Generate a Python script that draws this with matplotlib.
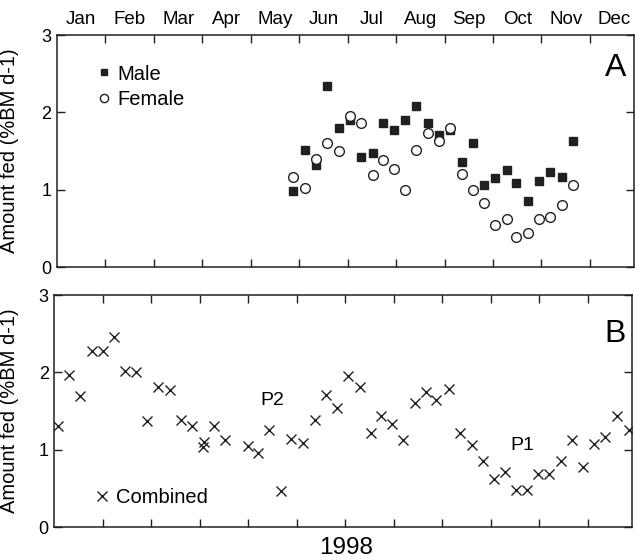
import numpy as np
import matplotlib
matplotlib.use("Agg")
from matplotlib import pyplot as plt

plt.rcParams['font.family'] = ['Liberation Sans', 'DejaVu Sans']

# month labels along the top axis
months = ["Jan", "Feb", "Mar", "Apr", "May", "Jun",
          "Jul", "Aug", "Sep", "Oct", "Nov", "Dec"]

# panel A: weekly samples, time in months since 1 Jan
sex_time = [4.88, 5.12, 5.35, 5.58, 5.82, 6.05, 6.28, 6.52, 6.72, 6.95,
            7.18, 7.42, 7.65, 7.88, 8.12, 8.35, 8.59, 8.82, 9.05, 9.29,
            9.48, 9.72, 9.95, 10.18, 10.43, 10.66]
male_fed = [0.99, 1.52, 1.32, 2.34, 1.80, 1.90, 1.43, 1.47, 1.86, 1.77,
            1.90, 2.08, 1.86, 1.71, 1.77, 1.36, 1.60, 1.06, 1.15, 1.26,
            1.09, 0.85, 1.12, 1.23, 1.16, 1.63]
female_fed = [1.17, 1.02, 1.40, 1.60, 1.50, 1.96, 1.86, 1.19, 1.38, 1.27,
              1.00, 1.52, 1.73, 1.63, 1.80, 1.21, 1.00, 0.83, 0.54, 0.62,
              0.39, 0.44, 0.62, 0.65, 0.81, 1.06]

# panel B: combined sexes
comb_time = [0.08, 0.31, 0.54, 0.77, 1.00, 1.23, 1.46, 1.68, 1.92, 2.14,
             2.39, 2.61, 2.83, 3.06, 3.09, 3.29, 3.53, 4.00, 4.21, 4.43,
             4.67, 4.89, 5.13, 5.37, 5.60, 5.83, 6.06, 6.30, 6.54, 6.73,
             6.96, 7.20, 7.43, 7.66, 7.88, 8.14, 8.37, 8.61, 8.83, 9.07,
             9.29, 9.52, 9.75, 9.98, 10.21, 10.44, 10.67, 10.91, 11.13, 11.35,
             11.61, 11.84]
comb_fed = [1.31, 1.97, 1.69, 2.28, 2.27, 2.46, 2.02, 2.00, 1.37, 1.81,
            1.77, 1.39, 1.31, 1.04, 1.10, 1.31, 1.12, 1.05, 0.96, 1.25,
            0.47, 1.14, 1.08, 1.39, 1.71, 1.54, 1.95, 1.81, 1.22, 1.44,
            1.33, 1.12, 1.60, 1.75, 1.64, 1.79, 1.22, 1.06, 0.85, 0.62,
            0.71, 0.48, 0.48, 0.69, 0.69, 0.85, 1.12, 0.78, 1.07, 1.17,
            1.43, 1.25]

ink = '#231f20'


def style_axes(ax, ylabel_x):
    ax.set_xlim(0, 11.92)
    ax.set_ylim(0, 3)
    ax.set_xticks(np.arange(1, 12))
    ax.set_yticks([0, 1, 2, 3])
    ax.tick_params(
        which='major',
        direction='in',
        length=6,
        width=1.0,
        color=ink,
        top=True,
        right=True,
        labelbottom=False,
        labelsize=13,
        pad=4,
        )
    for spine in ax.spines.values():
        spine.set_linewidth(1.1)
        spine.set_color(ink)
    ax.set_ylabel("Amount fed (%BM d-1)", fontsize=14.5)
    ax.yaxis.set_label_coords(ylabel_x, 0.5)


fig = plt.figure(figsize=(6.35, 5.6), dpi=100)
ax_a = fig.add_axes([0.0898, 0.5227, 0.9094, 0.4148])
ax_b = fig.add_axes([0.0855, 0.0589, 0.9104, 0.4143])

# --- panel A
ax_a.plot(sex_time, male_fed, ls='none', marker='s', ms=5.2,
          color=ink, label="Male")
ax_a.plot(sex_time, female_fed, ls='none', marker='o', ms=7,
          mfc='white', mec=ink, mew=1.0, label="Female")
style_axes(ax_a, -0.066)
ax_a.set_xticks(np.arange(0.5, 12), minor=True)
ax_a.set_xticklabels(months, minor=True)
ax_a.tick_params(which='minor', length=0, labeltop=True,
                 labelbottom=False, labelsize=13.5, pad=5)
ax_a.text(0.968, 0.858, "A", transform=ax_a.transAxes,
          fontsize=23, ha='center', va='center')
ax_a.legend(
    loc='center left',
    bbox_to_anchor=(0.0495, 0.778),
    frameon=False,
    fontsize=14.5,
    borderpad=0,
    handlelength=0.8,
    handletextpad=0.3,
    labelspacing=0.3,
    markerscale=0.85,
    )

# --- panel B
ax_b.plot(comb_time, comb_fed, ls='none', marker='x', ms=7.5, mew=1.0,
          color=ink, label="Combined")
style_axes(ax_b, -0.061)
ax_b.text(0.970, 0.832, "B", transform=ax_b.transAxes,
          fontsize=23, ha='center', va='center')
ax_b.text(4.49, 1.64, "P2", fontsize=14, ha='center', va='center')
ax_b.text(9.66, 1.05, "P1", fontsize=14, ha='center', va='center')
ax_b.legend(
    loc='center left',
    bbox_to_anchor=(0.051, 0.126),
    frameon=False,
    fontsize=14.5,
    borderpad=0,
    handlelength=0.8,
    handletextpad=0.3,
    )
ax_b.set_xlabel("1998", fontsize=17.5)
ax_b.xaxis.set_label_coords(0.505, -0.118)
ax_b.xaxis.label.set_va('baseline')

fig.savefig("out.png", dpi=100)
plt.close("all")
